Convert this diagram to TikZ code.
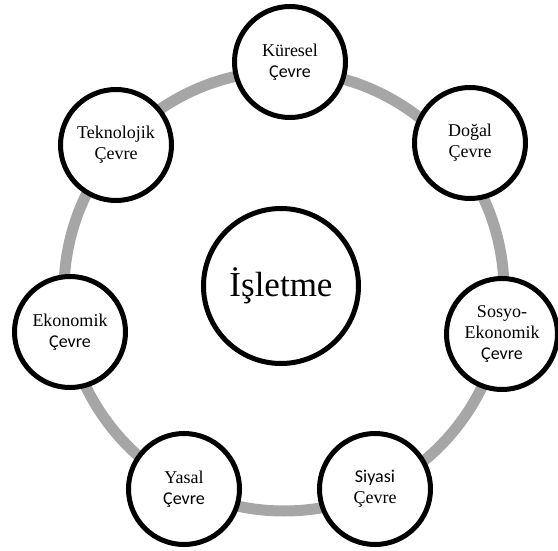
\documentclass[tikz,border=0pt]{standalone}
\usepackage{fontspec}
\setmainfont{Liberation Serif}
\newfontfamily\calfont{Carlito}
\begin{document}
\begin{tikzpicture}[x=1pt,y=-1pt,
  sat/.style={circle,draw=black,line width=5pt,fill=white,minimum size=111pt,inner sep=0pt,align=center,font=\fontsize{18}{21}\selectfont},
  hub/.style={circle,draw=black,line width=5pt,fill=white,minimum size=155pt,inner sep=0pt,font=\fontsize{35}{40}\selectfont},
  ring/.style={draw=black!35,line width=11pt}]
\useasboundingbox (0,0) rectangle (558,551);
\draw[ring] (284,291) circle[radius=220];
\node[hub] (isl) at (281,286) {İşletme};
\node[sat] (kur) at (290,62) {Küresel\\{\calfont Çevre}};
\node[sat] (dog) at (470,143) {Doğal\\Çevre};
\node[sat] (sos) at (502,334) {Sosyo-\\Ekonomik\\{\calfont Çevre}};
\node[sat] (siy) at (375,489) {{\calfont Siyasi}\\Çevre};
\node[sat] (yas) at (184,489) {Yasal\\{\calfont Çevre}};
\node[sat] (eko) at (70,332) {Ekonomik\\{\calfont Çevre}};
\node[sat] (tek) at (116,145) {Teknolojik\\Çevre};
\end{tikzpicture}
\end{document}
